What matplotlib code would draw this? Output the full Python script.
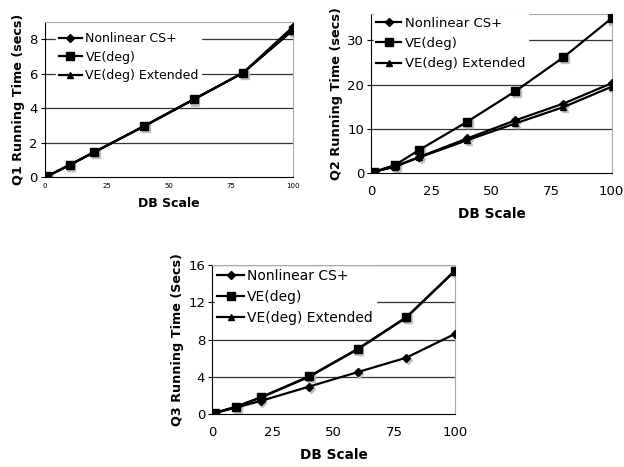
import matplotlib
matplotlib.use("Agg")
import matplotlib.pyplot as plt
import matplotlib.transforms as mtransforms

x = [1, 10, 20, 40, 60, 80, 100]
xticks = [0, 25, 50, 75, 100]

q1_nonlinear = [0.05, 0.7, 1.45, 2.95, 4.5, 6.05, 8.7]
q1_ve = [0.05, 0.7, 1.45, 2.95, 4.5, 6.05, 8.55]
q1_ext = [0.05, 0.7, 1.45, 2.95, 4.5, 6.05, 8.5]

q2_nonlinear = [0.2, 1.5, 3.6, 7.8, 11.9, 15.7, 20.3]
q2_ve = [0.2, 1.8, 5.2, 11.6, 18.5, 26.2, 35.0]
q2_ext = [0.2, 1.4, 3.5, 7.4, 11.2, 14.9, 19.5]

q3_nonlinear = [0.1, 0.7, 1.4, 2.95, 4.5, 6.05, 8.6]
q3_ve = [0.1, 0.8, 1.8, 4.05, 7.0, 10.4, 15.4]
q3_ext = [0.1, 0.8, 1.75, 4.0, 6.95, 10.35, 15.35]

series_names = ["Nonlinear CS+", "VE(deg)", "VE(deg) Extended"]
markers = ["D", "s", "^"]
msizes = [3.8, 5.5, 5.0]

fig = plt.figure(figsize=(6.24, 4.67), dpi=100)

def make(rect, data, ylim, yticks, ylabel, xtick_fs, xpad, lab_fs, xlab_fs, leg_fs, leg_loc, lspace):
    ax = fig.add_axes(rect)
    shadow = mtransforms.offset_copy(ax.transData, fig=fig, x=1.2, y=-1.5, units="points")
    for ys, m, ms in zip(data, markers, msizes):
        ax.plot(x, ys, color="#c0c0c0", lw=0, marker=m, ms=ms, transform=shadow, zorder=2)
    for ys, m, ms, name in zip(data, markers, msizes, series_names):
        ax.plot(x, ys, color="black", lw=1.6, marker=m, ms=ms, label=name, zorder=3)
    ax.set_xlim(0, 100)
    ax.set_ylim(*ylim)
    ax.set_xticks(xticks)
    ax.set_yticks(yticks)
    ax.tick_params(axis="x", labelsize=xtick_fs, length=0, pad=xpad)
    ax.tick_params(axis="y", labelsize=9.5, length=3, width=0.8, pad=2)
    for t in yticks[1:]:
        ax.axhline(t, color="#333333", lw=0.9, zorder=1)
    ax.spines["left"].set_color("black")
    ax.spines["bottom"].set_color("black")
    ax.spines["right"].set_color("#aaaaaa")
    ax.spines["top"].set_color("#aaaaaa")
    ax.set_xlabel("DB Scale", fontsize=xlab_fs, fontweight="bold", labelpad=6)
    ax.set_ylabel(ylabel, fontsize=lab_fs, fontweight="bold", labelpad=3)
    leg = ax.legend(loc="upper left", bbox_to_anchor=leg_loc, frameon=True, fontsize=leg_fs,
                    handlelength=1.9, handletextpad=0.25, labelspacing=lspace,
                    borderpad=0.2, borderaxespad=0.0, fancybox=False)
    leg.get_frame().set_edgecolor("white")
    leg.get_frame().set_facecolor("white")
    leg.get_frame().set_alpha(1)
    leg.set_zorder(5)
    return ax

make([0.072, 0.621, 0.397, 0.332], (q1_nonlinear, q1_ve, q1_ext), (0, 9), [0, 2, 4, 6, 8],
     "Q1 Running Time (secs)", 5, 4, 9.2, 9, 9, (0.045, 0.95), 0.45)
make([0.595, 0.630, 0.385, 0.340], (q2_nonlinear, q2_ve, q2_ext), (0, 36), [0, 10, 20, 30],
     "Q2 Running Time (secs)", 9.5, 9, 9.3, 9.8, 9.5, (0.01, 1.0), 0.55)
make([0.340, 0.1135, 0.389, 0.319], (q3_nonlinear, q3_ve, q3_ext), (0, 16), [0, 4, 8, 12, 16],
     "Q3 Running Time (Secs)", 9.5, 9, 9.2, 9.8, 10, (0.01, 0.99), 0.5)

fig.savefig("out.png", dpi=100)
